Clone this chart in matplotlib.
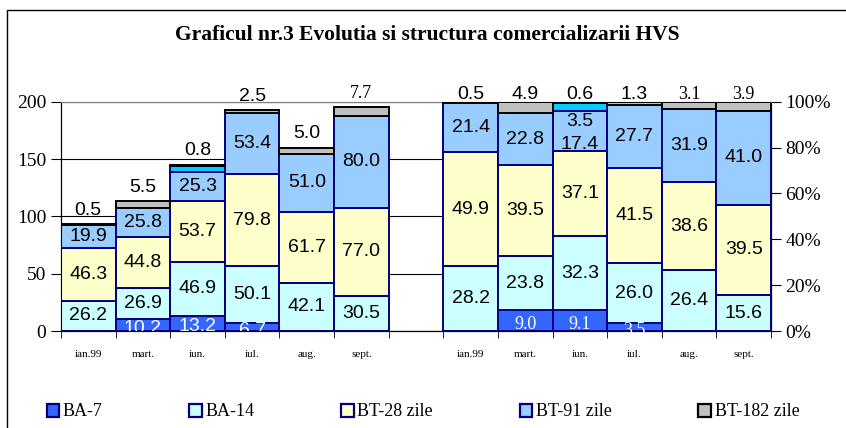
import matplotlib.pyplot as plt
import numpy as np
from matplotlib.patches import Rectangle

months = ['ian.99', 'mart.', 'iun.', 'iul.', 'aug.', 'sept.']
series = ['BA-7', 'BA-14', 'BT-28 zile', 'BT-91 zile', 'other', 'BT-182 zile']

# volume (left panel)
ba7_abs = [0, 10.2, 13.2, 6.7, 0, 0]
ba14_abs = [26.2, 26.9, 46.9, 50.1, 42.1, 30.5]
bt28_abs = [46.3, 44.8, 53.7, 79.8, 61.7, 77.0]
bt91_abs = [19.9, 25.8, 25.3, 53.4, 51.0, 80.0]
other_abs = [0, 0, 5.1, 0, 0, 0]
bt182_abs = [0.5, 5.5, 0.8, 2.5, 5.0, 7.7]

# structure, % (right panel)
ba7_pct = [0, 9.0, 9.1, 3.5, 0, 0]
ba14_pct = [28.2, 23.8, 32.3, 26.0, 26.4, 15.6]
bt28_pct = [49.9, 39.5, 37.1, 41.5, 38.6, 39.5]
bt91_pct = [21.4, 22.8, 17.4, 27.7, 31.9, 41.0]
other_pct = [0, 0, 3.5, 0, 0, 0]
bt182_pct = [0.5, 4.9, 0.6, 1.3, 3.1, 3.9]

colors = ['#3366FF', '#CCFFFF', '#FFFFCC', '#99CCFF', '#00CCFF', '#C0C0C0']
edges = ['#000080', '#000080', '#000080', '#000080', '#000080', 'black']

SANS = 'Liberation Sans'
SERIF = 'Liberation Serif'

fig = plt.figure(figsize=(8.46, 4.28), dpi=100)
ax = fig.add_axes([61/846, (428-331)/428, 710/846, 229.3/428])
ax2 = ax.twinx()

x_left = np.arange(6)
x_right = np.arange(6) + 7


def stack(a, xs, data, top_serif, ba7_font, right=False):
    bottom = np.zeros(6)
    for i, vals in enumerate(data):
        vals = np.array(vals, dtype=float)
        a.bar(xs, vals, bottom=bottom, width=1.0, color=colors[i],
              edgecolor=edges[i], linewidth=1.4, zorder=3)
        for j, v in enumerate(vals):
            if v <= 0:
                continue
            cy = bottom[j] + v / 2
            name = series[i]
            if name == 'BT-182 zile':
                a.annotate(f'{v:.1f}', (xs[j], bottom[j] + v), xytext=(0, -1 if right else 4),
                           textcoords='offset points', ha='center', va='bottom',
                           fontsize=14 if j not in top_serif else 13,
                           family=SERIF if j in top_serif else SANS, zorder=5)
            elif name == 'other':
                if right:
                    a.text(xs[j], cy - 6.5, f'{v:.1f}', ha='center', va='center',
                           fontsize=14, family=SANS, zorder=5)
            elif name == 'BA-7':
                a.text(xs[j], cy - (1.5 if right else 3), f'{v:.1f}', ha='center', va='center',
                       fontsize=14 if ba7_font == SANS else 13,
                       family=ba7_font, color='white', zorder=5)
            elif name == 'BT-91 zile' and right and other_pct[j] > 0:
                a.text(xs[j], cy - 6, f'{v:.1f}', ha='center', va='center',
                       fontsize=14, family=SANS, zorder=5)
            else:
                a.text(xs[j], cy, f'{v:.1f}', ha='center', va='center',
                       fontsize=14, family=SANS, zorder=5)
        bottom += vals


stack(ax, x_left, [ba7_abs, ba14_abs, bt28_abs, bt91_abs, other_abs, bt182_abs],
      top_serif={5}, ba7_font=SANS)
stack(ax2, x_right, [ba7_pct, ba14_pct, bt28_pct, bt91_pct, other_pct, bt182_pct],
      top_serif={4, 5}, ba7_font=SERIF, right=True)

ax.set_xlim(-0.5, 12.5)
ax.set_ylim(0, 200)
ax2.set_ylim(0, 100)
ax.set_yticks([0, 50, 100, 150, 200])
ax2.set_yticks([0, 20, 40, 60, 80, 100])
ax2.set_yticklabels([f'{t}%' for t in range(0, 101, 20)])

ax.yaxis.grid(True, color='black', linewidth=0.8)
ax.set_axisbelow(True)

ax.set_xticks(list(x_left) + list(x_right))
ax.set_xticklabels(months + months, family=SERIF, fontsize=8)
ax.set_xticks(np.arange(-0.5, 13, 1.0), minor=True)
ax.tick_params(axis='x', which='major', length=0, pad=14)
ax.tick_params(axis='x', which='minor', length=5, direction='out')
ax.tick_params(axis='y', length=7, direction='out', labelsize=14)
ax2.tick_params(axis='y', length=7, direction='out', labelsize=14)
for lab in ax.get_yticklabels() + ax2.get_yticklabels():
    lab.set_family(SERIF)

for a in (ax, ax2):
    a.spines['top'].set_color('#808080')
    for s in ('left', 'right', 'bottom'):
        a.spines[s].set_color('black')

fig.text(0.505, 1 - 35/428, 'Graficul nr.3 Evolutia si structura comercializarii HVS',
         ha='center', va='center', fontsize=15.5, fontweight='bold', family=SERIF)

handles = [Rectangle((0, 0), 1, 1, facecolor=colors[i], edgecolor=edges[i], linewidth=1.6)
           for i in (0, 1, 2, 3, 5)]
labels = ['BA-7', 'BA-14', 'BT-28 zile', 'BT-91 zile', 'BT-182 zile']
fig.legend(handles, labels, loc='center', bbox_to_anchor=(0.5, 1 - 412/428), ncol=5,
           frameon=False, handlelength=0.7, handleheight=0.7, handletextpad=0.2,
           columnspacing=4.8, prop={'family': SERIF, 'size': 13})

fig.patches.append(Rectangle((7/846, -0.1), 2, 1 - 10/428 + 0.1, transform=fig.transFigure,
                             fill=False, edgecolor='black', linewidth=1))

fig.savefig('out.png', dpi=100)
